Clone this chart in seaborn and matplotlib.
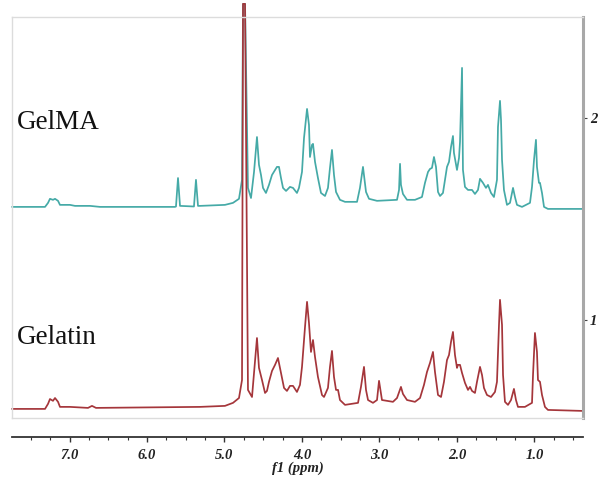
import numpy as np
import pandas as pd
import matplotlib
matplotlib.use("Agg")
import matplotlib.pyplot as plt
import seaborn as sns
from matplotlib.ticker import MultipleLocator, FixedLocator

# ---------------- data ----------------
gelma_ppm = [7.742, 7.316, 7.277, 7.252, 7.213, 7.187, 7.148, 7.123, 6.994, 6.929,
             6.735, 6.606, 5.639, 5.626, 5.600, 5.574, 5.394, 5.368, 5.342, 5.316,
             4.994, 4.890, 4.813, 4.774, 4.761, 4.735, 4.697, 4.658, 4.619, 4.581,
             4.555, 4.529, 4.503, 4.465, 4.426, 4.387, 4.348, 4.323, 4.297, 4.271,
             4.245, 4.206, 4.155, 4.116, 4.065, 4.039, 4.000, 3.974, 3.935, 3.910,
             3.897, 3.871, 3.858, 3.832, 3.794, 3.755, 3.703, 3.665, 3.639, 3.613,
             3.587, 3.561, 3.510, 3.445, 3.290, 3.252, 3.213, 3.174, 3.135, 3.032,
             2.774, 2.748, 2.735, 2.723, 2.697, 2.645, 2.542, 2.452, 2.413, 2.374,
             2.348, 2.323, 2.297, 2.271, 2.245, 2.219, 2.181, 2.129, 2.103, 2.077,
             2.052, 2.039, 2.000, 1.974, 1.961, 1.935, 1.923, 1.897, 1.858, 1.806,
             1.768, 1.729, 1.703, 1.665, 1.626, 1.600, 1.561, 1.523, 1.484, 1.471,
             1.445, 1.432, 1.419, 1.394, 1.355, 1.316, 1.277, 1.252, 1.226, 1.161,
             1.058, 1.032, 1.006, 0.981, 0.968, 0.942, 0.929, 0.903, 0.877, 0.826,
             0.735, 0.374]
gelma_int = [0.010, 0.010, 0.030, 0.050, 0.045, 0.050, 0.040, 0.020, 0.020, 0.015,
             0.015, 0.010, 0.010, 0.012, 0.153, 0.015, 0.012, 0.144, 0.015, 0.015,
             0.020, 0.030, 0.050, 0.144, 1.015, 1.015, 0.104, 0.054, 0.183, 0.356,
             0.218, 0.168, 0.104, 0.079, 0.119, 0.168, 0.193, 0.208, 0.208, 0.153,
             0.104, 0.089, 0.109, 0.104, 0.079, 0.104, 0.183, 0.351, 0.495, 0.416,
             0.257, 0.317, 0.322, 0.233, 0.153, 0.079, 0.064, 0.104, 0.203, 0.292,
             0.168, 0.084, 0.045, 0.035, 0.035, 0.104, 0.208, 0.084, 0.050, 0.040,
             0.045, 0.094, 0.223, 0.119, 0.074, 0.045, 0.045, 0.059, 0.129, 0.183,
             0.198, 0.203, 0.257, 0.208, 0.084, 0.064, 0.079, 0.208, 0.233, 0.307,
             0.361, 0.277, 0.193, 0.252, 0.332, 0.698, 0.193, 0.109, 0.094, 0.094,
             0.074, 0.094, 0.149, 0.129, 0.104, 0.119, 0.079, 0.059, 0.144, 0.406,
             0.535, 0.441, 0.243, 0.094, 0.020, 0.030, 0.104, 0.059, 0.020, 0.010,
             0.030, 0.109, 0.243, 0.342, 0.208, 0.129, 0.129, 0.079, 0.010, 0.000,
             0.000, 0.000]

gelatin_ppm = [7.742, 7.316, 7.277, 7.252, 7.213, 7.187, 7.148, 7.123, 6.994, 6.761,
               6.710, 6.658, 5.316, 4.994, 4.890, 4.813, 4.774, 4.761, 4.735, 4.697,
               4.645, 4.619, 4.581, 4.555, 4.516, 4.477, 4.452, 4.426, 4.387, 4.348,
               4.310, 4.271, 4.232, 4.194, 4.155, 4.116, 4.065, 4.026, 4.000, 3.961,
               3.935, 3.910, 3.884, 3.858, 3.832, 3.794, 3.742, 3.716, 3.665, 3.639,
               3.613, 3.587, 3.561, 3.535, 3.510, 3.445, 3.277, 3.239, 3.200, 3.174,
               3.148, 3.084, 3.032, 3.006, 2.968, 2.826, 2.774, 2.723, 2.697, 2.645,
               2.542, 2.477, 2.426, 2.387, 2.348, 2.310, 2.284, 2.245, 2.206, 2.168,
               2.129, 2.103, 2.077, 2.052, 2.026, 2.000, 1.987, 1.961, 1.935, 1.897,
               1.858, 1.832, 1.806, 1.768, 1.742, 1.703, 1.677, 1.652, 1.613, 1.561,
               1.510, 1.484, 1.458, 1.445, 1.419, 1.406, 1.381, 1.342, 1.303, 1.265,
               1.239, 1.213, 1.123, 1.032, 1.019, 0.994, 0.968, 0.955, 0.929, 0.903,
               0.865, 0.826, 0.374]
gelatin_int = [0.010, 0.010, 0.035, 0.059, 0.050, 0.064, 0.045, 0.020, 0.020, 0.015,
               0.025, 0.015, 0.020, 0.025, 0.040, 0.064, 0.153, 2.015, 2.015, 0.104,
               0.069, 0.188, 0.361, 0.213, 0.153, 0.089, 0.099, 0.144, 0.198, 0.228,
               0.262, 0.188, 0.114, 0.099, 0.124, 0.124, 0.094, 0.129, 0.218, 0.416,
               0.540, 0.436, 0.292, 0.351, 0.267, 0.168, 0.079, 0.069, 0.114, 0.218,
               0.297, 0.168, 0.104, 0.104, 0.054, 0.030, 0.040, 0.119, 0.218, 0.104,
               0.054, 0.040, 0.054, 0.149, 0.054, 0.045, 0.064, 0.119, 0.084, 0.054,
               0.045, 0.064, 0.129, 0.193, 0.238, 0.292, 0.193, 0.079, 0.069, 0.144,
               0.252, 0.277, 0.342, 0.391, 0.277, 0.213, 0.228, 0.228, 0.188, 0.139,
               0.104, 0.119, 0.099, 0.089, 0.144, 0.218, 0.178, 0.114, 0.079, 0.069,
               0.094, 0.144, 0.426, 0.550, 0.426, 0.178, 0.045, 0.030, 0.054, 0.109,
               0.054, 0.020, 0.020, 0.040, 0.178, 0.386, 0.292, 0.153, 0.144, 0.079,
               0.020, 0.005, 0.000]

series_names = ["GelMA", "Gelatin"]
offsets = [1.55, 0.55]
colors = ["#45aaa7", "#a5363b"]
x_ticks = [7.0, 6.0, 5.0, 4.0, 3.0, 2.0, 1.0]
y_ticks = [1, 2]

# ---------------- figure ----------------
sns.set_theme(style="white")
plt.rcParams["font.family"] = ["Liberation Serif", "DejaVu Serif"]

W, H = 600, 487
fig = plt.figure(figsize=(6.0, 4.87), dpi=100)

ax = fig.add_axes([12 / W, 1 - 418 / H, 571 / W, 401 / H])
df_gm = pd.DataFrame({"ppm": gelma_ppm, "val": np.array(gelma_int) + offsets[0]})
df_gl = pd.DataFrame({"ppm": gelatin_ppm, "val": np.array(gelatin_int) + offsets[1]})

sns.lineplot(data=df_gm, x="ppm", y="val", sort=False, estimator=None, ax=ax,
             color=colors[0], lw=1.25, clip_on=False)
sns.lineplot(data=df_gl, x="ppm", y="val", sort=False, estimator=None, ax=ax,
             color=colors[1], lw=1.25, clip_on=False)

ax.set_xlim(7.742, 0.374)
ax.set_ylim(0.515, 2.5)
ax.set_xlabel("")
ax.set_ylabel("")
ax.set_xticks([])
for s in ["top", "left", "bottom"]:
    ax.spines[s].set_color("#dcdcdc")
    ax.spines[s].set_linewidth(1.0)
ax.spines["right"].set_color("#a8a8a8")
ax.spines["right"].set_linewidth(2.2)
ax.yaxis.tick_right()
ax.set_yticks(y_ticks)
ax.set_yticklabels([str(v) for v in y_ticks], fontweight="bold", fontstyle="italic",
                   fontsize=10.5)
ax.tick_params(axis="y", right=True, left=False, direction="out", length=3,
               width=0.8, color="#444444", pad=2, labelcolor="#222222")

ax.text(0.009, (1.0 + (320 - 122) / 202 - 0.515) / (2.5 - 0.515),
        series_names[0], transform=ax.transAxes, fontsize=19.5, ha="left",
        va="center", color="#111111")
ax.text(0.008, (1.0 + (320 - 337) / 202 - 0.515) / (2.5 - 0.515),
        series_names[1], transform=ax.transAxes, fontsize=19.5, ha="left",
        va="center", color="#111111")

# separate x-axis below the frame
axx = fig.add_axes([12 / W, 1 - 437 / H, 571 / W, 0.0001])
axx.set_xlim(7.742, 0.374)
axx.set_yticks([])
for s in ["top", "left", "right"]:
    axx.spines[s].set_visible(False)
axx.spines["bottom"].set_color("#333333")
axx.spines["bottom"].set_linewidth(1.3)
axx.xaxis.set_major_locator(FixedLocator(x_ticks))
axx.xaxis.set_minor_locator(MultipleLocator(0.25))
axx.set_xticklabels([f"{v:.1f}" for v in x_ticks], fontweight="bold",
                    fontstyle="italic", fontsize=10.5)
axx.tick_params(axis="x", which="major", direction="out", length=3.5, width=1.0,
                color="#333333", pad=5, labelcolor="#222222")
axx.tick_params(axis="x", which="minor", direction="out", length=2.5, width=0.8,
                color="#333333")
axx.tick_params(axis="x", which="both", bottom=True)
axx.set_xlabel("f1 (ppm)", fontweight="bold", fontstyle="italic", fontsize=10.5,
               labelpad=0, color="#222222")
axx.patch.set_visible(False)

fig.savefig("out.png", dpi=100)
